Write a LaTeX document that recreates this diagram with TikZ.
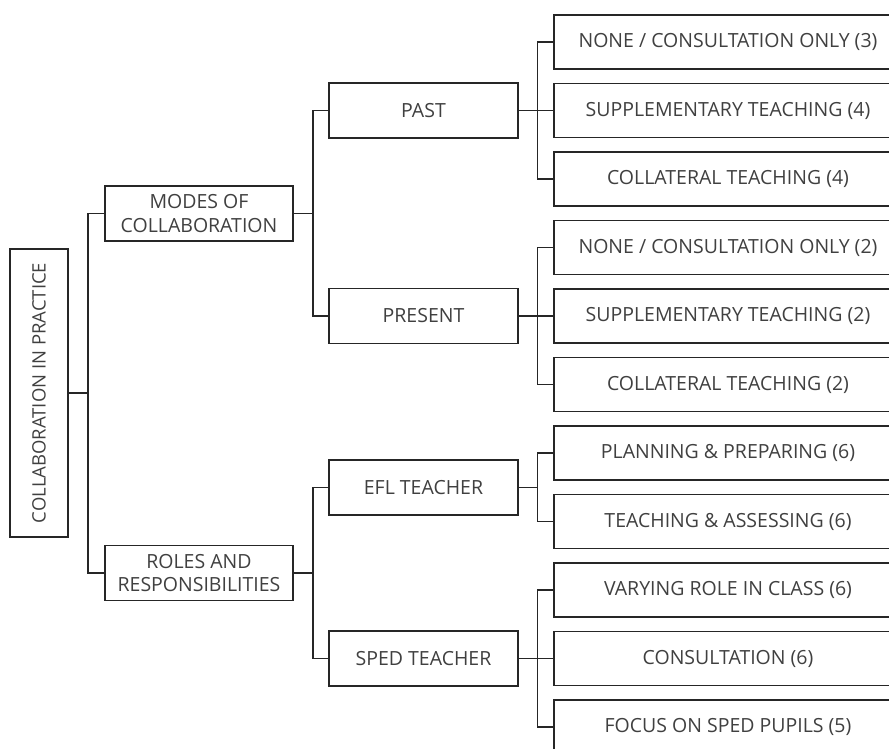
\documentclass[tikz,border=0pt]{standalone}
\usepackage{fontspec}
\setmainfont{Open Sans}
\definecolor{txt}{HTML}{404040}
\definecolor{ln}{HTML}{262626}
\tikzset{
  box/.style={draw=ln, line width=1.5pt, fill=white, text=txt, align=center, inner sep=0pt,
    font=\fontsize{19.5}{23.5}\selectfont},
  lvl1/.style={box, minimum width=188pt, minimum height=55pt},
  lvl2/.style={box, minimum width=189pt, minimum height=55pt},
  leaf/.style={box, minimum width=348pt, minimum height=54pt},
  conn/.style={draw=ln, line width=1.5pt}
}
\begin{document}
\begin{tikzpicture}[x=1pt,y=-1pt]
\useasboundingbox (0,0) rectangle (889,749);
\clip (0,0) rectangle (889,749);
% root
\node[box, minimum width=58pt, minimum height=288pt, font=\fontsize{18.5}{22}\selectfont] (root) at (39,393)
  {\rotatebox{90}{COLLABORATION IN PRACTICE}};
% level 1
\node[lvl1] (modes) at (199,213.5) {MODES OF\\COLLABORATION};
\node[lvl1] (roles) at (199,573) {ROLES AND\\RESPONSIBILITIES};
% level 2
\node[lvl2] (past) at (423.5,110.5) {PAST};
\node[lvl2] (present) at (423.5,316) {PRESENT};
\node[lvl2] (efl) at (423.5,487.5) {EFL TEACHER};
\node[lvl2] (sped) at (423.5,658.5) {SPED TEACHER};
% leaves
\node[leaf] (l1) at (728,42) {NONE / CONSULTATION ONLY (3)};
\node[leaf] (l2) at (728,110.5) {SUPPLEMENTARY TEACHING (4)};
\node[leaf] (l3) at (728,179) {COLLATERAL TEACHING (4)};
\node[leaf] (l4) at (728,247.5) {NONE / CONSULTATION ONLY (2)};
\node[leaf] (l5) at (728,316) {SUPPLEMENTARY TEACHING (2)};
\node[leaf] (l6) at (728,384.5) {COLLATERAL TEACHING (2)};
\node[leaf] (l7) at (728,453) {PLANNING \& PREPARING (6)};
\node[leaf] (l8) at (728,521.5) {TEACHING \& ASSESSING (6)};
\node[leaf] (l9) at (728,590) {VARYING ROLE IN CLASS (6)};
\node[leaf] (l10) at (728,658.5) {CONSULTATION (6)};
\node[leaf] (l11) at (728,727) {FOCUS ON SPED PUPILS (5)};
% connectors
\draw[conn] (root.east) -- ++(19,0) |- (modes.west);
\draw[conn] (root.east) ++(19,0) |- (roles.west);
\draw[conn] (modes.east) -- ++(19,0) |- (past.west);
\draw[conn] (modes.east) ++(19,0) |- (present.west);
\draw[conn] (roles.east) -- ++(19,0) |- (efl.west);
\draw[conn] (roles.east) ++(19,0) |- (sped.west);
\foreach \p/\c in {past/l1,past/l2,past/l3,present/l4,present/l5,present/l6,efl/l7,efl/l8,sped/l9,sped/l10,sped/l11}{
  \draw[conn] (\p.east) -- ++(18.5,0) |- (\c.west);
}
\end{tikzpicture}
\end{document}
